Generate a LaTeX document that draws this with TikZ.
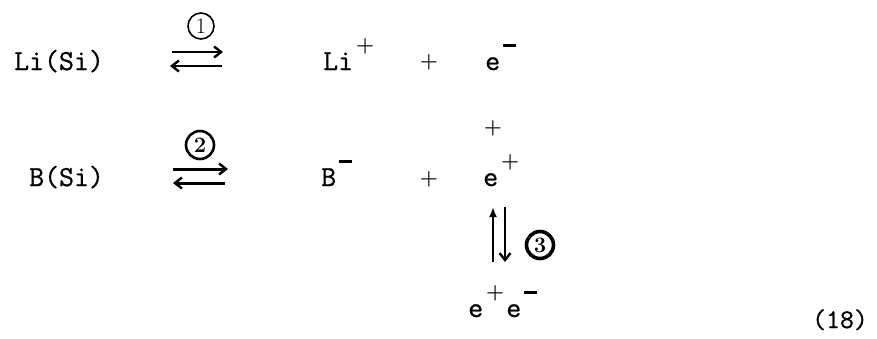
\documentclass[tikz,border=0pt]{standalone}
\usepackage{fontspec}
\usetikzlibrary{arrows.meta, positioning}

\newfontfamily\typew{Latin Modern Mono}[FakeBold=0.8]
\newcommand{\chg}[1]{\kern3pt\raisebox{19pt}{\fontsize{20}{20}\selectfont#1}\kern2pt}
\newcommand{\minuschg}{\rule[3.8pt]{13pt}{3pt}}
\newcommand{\pluschg}{{\boldmath$+$}}

\begin{document}
\begin{tikzpicture}[
    x=1pt, y=-1pt,
    species/.style={anchor=base west, inner sep=0pt, font=\typew\fontsize{29}{34}\selectfont},
    op/.style={inner sep=0pt, font=\fontsize{20}{20}\selectfont},
    num/.style={circle, draw, minimum size=26pt, inner sep=0pt, font=\fontsize{22}{22}\selectfont},
    arrow/.style={-{Straight Barb[length=7pt, width=11pt, line width=2.4pt]}, line width=2.6pt},
]
\useasboundingbox (0,0) rectangle (877,338);

%% NODES
    % first row
    \node[species] (li_si) at (14,70) {Li(Si)};
    \node[species] (li_ion) at (323,70) {Li\chg{\pluschg}};
    \node[op] (plus_a) at (429,62) {\pluschg};
    \node[species] (e_minus) at (485,70) {e\chg{\minuschg}};
    \node[num, line width=1.6pt] (step_a) at (201,26) {1};

    % second row
    \node[species] (b_si) at (29,186) {B(Si)};
    \node[species] (b_ion) at (321,186) {B\chg{\minuschg}};
    \node[op] (plus_b) at (429,179) {\pluschg};
    \node[species] (e_plus) at (483,186) {e\chg{\pluschg}};
    \node[op] (plus_c) at (493,128) {\pluschg};
    \node[num, line width=2.6pt, minimum size=28pt] (step_b) at (200,145) {\textbf{2}};

    % pair
    \node[species] (pair) at (468,317) {e\chg{\pluschg}e\chg{\minuschg}};
    \node[num, line width=3.6pt, minimum size=27pt] (step_c) at (540,245) {\textbf{3}};

    % equation number
    \node[species, font=\typew\fontsize{27}{30}\selectfont] (eqno) at (812,328) {(18)};

%% CONNECTORS
    \coordinate (a_fw_start) at (172,52);  \coordinate (a_fw_end) at (223,52);
    \coordinate (a_bw_start) at (222,66);  \coordinate (a_bw_end) at (170,66);
    \coordinate (b_fw_start) at (173,169); \coordinate (b_fw_end) at (228,169);
    \coordinate (b_bw_start) at (225,183); \coordinate (b_bw_end) at (173,183);
    \coordinate (c_up_start) at (493,262); \coordinate (c_up_end) at (493,207);
    \coordinate (c_dn_start) at (505,207); \coordinate (c_dn_end) at (505,262);

    % equilibrium 1
    \draw[arrow] (a_fw_start) -- (a_fw_end);
    \draw[arrow] (a_bw_start) -- (a_bw_end);

    % equilibrium 2
    \draw[arrow, line width=3pt] (b_fw_start) -- (b_fw_end);
    \draw[arrow, line width=3pt] (b_bw_start) -- (b_bw_end);

    % equilibrium 3
    \draw[-{Latex[length=10pt, width=8pt]}, line width=2.6pt] (c_up_start) -- (c_up_end);
    \draw[arrow, line width=2.4pt] (c_dn_start) -- (c_dn_end);

\end{tikzpicture}
\end{document}
